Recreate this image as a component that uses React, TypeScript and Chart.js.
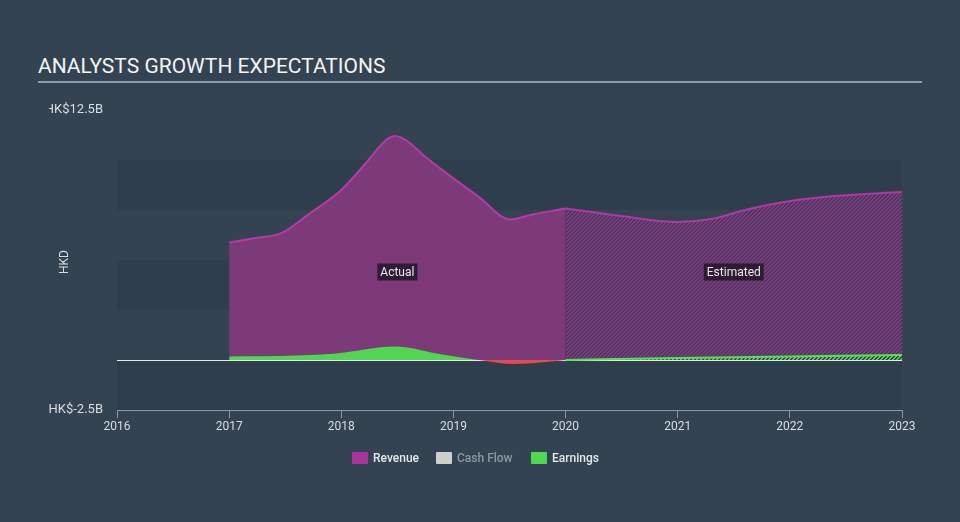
import React, { useEffect, useRef } from "react";
import { Chart, registerables } from "chart.js";

Chart.register(...registerables);

// ---- data (HK$ billions) ----
const xYears = [2016, 2017, 2018, 2019, 2020, 2021, 2022, 2023];

const revenueActualX = [2017, 2017.21, 2017.46, 2017.72, 2018, 2018.22, 2018.4, 2018.48, 2018.6, 2018.73, 2019, 2019.26, 2019.43, 2019.5, 2019.71, 2020];
const revenueActualY = [5.87, 6.08, 6.33, 7.33, 8.5, 9.85, 11.0, 11.2, 10.9, 10.25, 9.08, 8.0, 7.17, 7.03, 7.28, 7.58];

const revenueEstX = [2020, 2020.5, 2021, 2021.3, 2021.6, 2022, 2022.4, 2023];
const revenueEstY = [7.58, 7.2, 6.9, 7.05, 7.5, 7.95, 8.2, 8.4];

const earningsActualX = [2017, 2017.6, 2017.96, 2018.48, 2018.85, 2019.29, 2019.53, 2019.88, 2020];
const earningsActualY = [0.17, 0.22, 0.33, 0.67, 0.33, -0.05, -0.2, -0.08, 0.0];

const earningsEstX = [2020, 2021, 2022, 2023];
const earningsEstY = [0.0, 0.1, 0.18, 0.25];

const yMin = -2.5;
const yMax = 12.5;
const yLabels = ["HK$12.5B", "HK$-2.5B"];
const yLabelValues = [12.5, -2.5];
const bandRanges = [[7.5, 10], [2.5, 5], [-2.5, 0]];

const BG = "#344352";

function pts(xs: number[], ys: number[]) {
  return xs.map((x, i) => ({ x, y: ys[i] }));
}

function makeHatch(base: string, stripe: string) {
  const c = document.createElement("canvas");
  c.width = 4;
  c.height = 4;
  const g = c.getContext("2d")!;
  g.fillStyle = base;
  g.fillRect(0, 0, 4, 4);
  g.fillStyle = stripe;
  for (let i = 0; i < 4; i++) {
    g.fillRect(i, (3 - i + 4) % 4, 1, 1);
    g.fillRect(i, (4 - i + 4) % 4, 1, 1);
  }
  return g.createPattern(c, "repeat")!;
}

export default function App() {
  const ref = useRef<HTMLCanvasElement | null>(null);

  useEffect(() => {
    const canvas = ref.current!;
    const revHatch = makeHatch("#4a3862", "#823b7e");
    const earnHatch = makeHatch("rgba(60,80,70,0.6)", "#4fcf4f");

    const bandsPlugin = {
      id: "bands",
      beforeDraw(chart: any) {
        const { ctx, chartArea, scales } = chart;
        const y = scales.y;
        ctx.save();
        ctx.fillStyle = "rgba(20,30,42,0.12)";
        for (const [a, b] of bandRanges) {
          const top = y.getPixelForValue(b);
          const bot = y.getPixelForValue(a);
          ctx.fillRect(chartArea.left, top, chartArea.right - chartArea.left, bot - top);
        }
        ctx.restore();
      },
    };

    const labelsPlugin = {
      id: "labelsExtra",
      afterDatasetsDraw(chart: any) {
        const { ctx, scales } = chart;
        const x = scales.x;
        const y = scales.y;
        ctx.save();
        ctx.font = "12px Roboto, 'Open Sans', sans-serif";
        ctx.textBaseline = "middle";
        ctx.textAlign = "center";
        const tags: [string, number][] = [["Actual", 2018.5], ["Estimated", 2021.5]];
        for (const [t, xv] of tags) {
          const cx = x.getPixelForValue(xv);
          const cy = y.getPixelForValue(4.4);
          const w = ctx.measureText(t).width + 6;
          ctx.fillStyle = "rgba(35,22,42,0.85)";
          ctx.fillRect(cx - w / 2, cy - 8.5, w, 17);
          ctx.fillStyle = "#e8e8ee";
          ctx.fillText(t, cx, cy + 0.5);
        }
        ctx.restore();
      },
      afterDraw(chart: any) {
        const { ctx, scales } = chart;
        const y = scales.y;
        ctx.save();
        ctx.beginPath();
        ctx.rect(49, 0, 200, 522);
        ctx.clip();
        ctx.font = "13px Roboto, 'Open Sans', sans-serif";
        ctx.fillStyle = "#d8dde3";
        ctx.textAlign = "right";
        ctx.textBaseline = "middle";
        yLabels.forEach((l, i) => {
          ctx.fillText(l, 103, y.getPixelForValue(yLabelValues[i]));
        });
        ctx.restore();
        ctx.save();
        ctx.translate(65, 262);
        ctx.rotate(-Math.PI / 2);
        ctx.font = "12px Roboto, 'Open Sans', sans-serif";
        ctx.fillStyle = "#d8dde3";
        ctx.textAlign = "center";
        ctx.textBaseline = "middle";
        ctx.fillText("HKD", 0, 0);
        ctx.restore();
      },
    };

    const chart = new Chart(canvas, {
      type: "line",
      data: {
        datasets: [
          {
            label: "Earnings",
            data: pts(earningsActualX, earningsActualY),
            borderColor: "rgba(0,0,0,0)",
            borderWidth: 0,
            backgroundColor: "#52d552",
            fill: { target: "origin", above: "#52d552", below: "#e44b4b" },
            pointRadius: 0,
            cubicInterpolationMode: "monotone",
          } as any,
          {
            label: "Earnings est",
            data: pts(earningsEstX, earningsEstY),
            borderColor: "#55e055",
            borderWidth: 2,
            backgroundColor: earnHatch,
            fill: "origin",
            pointRadius: 0,
            cubicInterpolationMode: "monotone",
          } as any,
          {
            label: "Revenue",
            data: pts(revenueActualX, revenueActualY),
            borderColor: "#b43aa6",
            borderWidth: 2,
            backgroundColor: "#7c3a78",
            fill: "origin",
            pointRadius: 0,
            cubicInterpolationMode: "monotone",
          } as any,
          {
            label: "Revenue est",
            data: pts(revenueEstX, revenueEstY),
            borderColor: "#ac3aa0",
            borderWidth: 2,
            backgroundColor: revHatch,
            fill: "origin",
            pointRadius: 0,
            cubicInterpolationMode: "monotone",
          } as any,
        ],
      },
      options: {
        animation: false,
        responsive: false,
        maintainAspectRatio: false,
        layout: { padding: { left: 117, right: 58, top: 110, bottom: 82 } },
        plugins: {
          legend: { display: false },
          tooltip: { enabled: false },
          title: { display: false },
        },
        scales: {
          x: {
            type: "linear",
            min: xYears[0],
            max: xYears[xYears.length - 1],
            afterBuildTicks: (s: any) => {
              s.ticks = xYears.map((v) => ({ value: v }));
            },
            afterFit: (s: any) => {
              s.height = 30;
            },
            ticks: {
              color: "#d8dde3",
              font: { size: 12, family: "Roboto, 'Open Sans', sans-serif" },
              padding: 2,
              maxRotation: 0,
              autoSkip: false,
              callback: (v: any) => String(v),
            },
            grid: {
              drawOnChartArea: false,
              drawTicks: true,
              tickLength: 8,
              color: "#8a98a8",
            },
            border: { display: true, color: "#8a98a8", width: 1 },
          },
          y: {
            min: yMin,
            max: yMax,
            afterFit: (s: any) => {
              s.width = 0;
            },
            ticks: { display: false, stepSize: 2.5 },
            grid: {
              drawTicks: false,
              color: (c: any) => (c.tick && c.tick.value === 0 ? "#e6e9ee" : "rgba(0,0,0,0)"),
              lineWidth: 1,
            },
            border: { display: false },
          },
        },
      } as any,
      plugins: [bandsPlugin, labelsPlugin],
    });
    return () => chart.destroy();
  }, []);

  const legendText = { position: "absolute" as const, top: 450, font: "500 12px Roboto, 'Open Sans', sans-serif", lineHeight: "16px" };
  const box = (left: number, color: string) => (
    <div style={{ position: "absolute", left, top: 452, width: 16, height: 12, background: color, borderRadius: 1 }} />
  );

  return (
    <div style={{ position: "fixed", left: 0, top: 0, width: 960, height: 522, background: BG, overflow: "hidden" }}>
      <div
        style={{
          position: "absolute",
          left: 38,
          top: 54,
          font: "21px Roboto, 'Open Sans', sans-serif",
          color: "#f2f4f6",
          whiteSpace: "nowrap",
        }}
      >
        ANALYSTS GROWTH EXPECTATIONS
      </div>
      <div style={{ position: "absolute", left: 38, top: 81, width: 884, height: 2, background: "#8e9aa7" }} />
      <canvas ref={ref} width={960} height={522} style={{ position: "absolute", left: 0, top: 0, width: 960, height: 522 }} />
      {box(352, "#a8359a")}
      <div style={{ ...legendText, left: 373, color: "#e4e7ea" }}>Revenue</div>
      {box(436, "#cfcfcf")}
      <div style={{ ...legendText, left: 457, color: "#8d98a4" }}>Cash Flow</div>
      {box(531, "#4ddb4d")}
      <div style={{ ...legendText, left: 552, color: "#e4e7ea" }}>Earnings</div>
    </div>
  );
}
